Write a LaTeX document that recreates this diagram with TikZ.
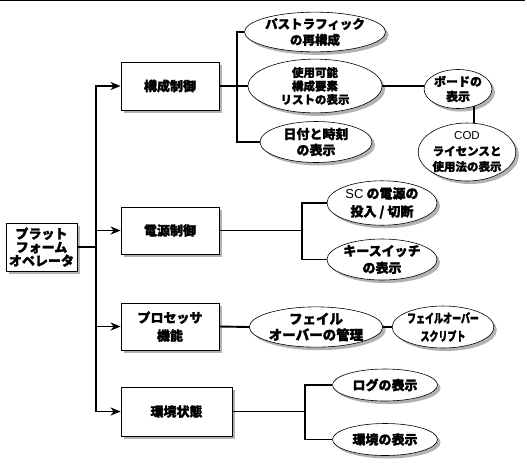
\documentclass[tikz,border=0pt]{standalone}
\usepackage{fontspec}
\usepackage{graphicx}
\setmainfont{Noto Sans CJK JP}[BoldFeatures={FakeBold=1.5}]
\newfontfamily\latinthin{Liberation Sans}
\usetikzlibrary{shapes.geometric,shadows,arrows.meta}
\newcommand\myfs[2]{\fontsize{#1}{#2}\selectfont}
\begin{document}
\begin{tikzpicture}[x=1pt,y=-1pt,
  shadowed/.style={drop shadow={shadow xshift=3pt,shadow yshift=-3pt,fill=black!30,opacity=1}},
  box/.style={draw, line width=0.8pt, fill=white, inner sep=0pt, align=center, text=black, shadowed},
  oval/.style={ellipse, draw, line width=0.6pt, fill=white, inner sep=0pt, align=center, text=black, shadowed},
  conn/.style={line width=1.9pt},
  arr/.style={conn,-{Stealth[length=10pt,width=8pt,inset=3pt]}}]
\useasboundingbox (0,0) rectangle (527,472);
\fill[white] (0,0) rectangle (527,472);
\draw[line width=1pt] (0,0.5) -- (525,0.5);

% boxes
\node[box,minimum width=71pt,minimum height=48pt,font=\bfseries\myfs{13}{13.5}] (plat) at (41.5,247) {プラット\\フォーム\\オペレータ};
\node[box,minimum width=98pt,minimum height=48pt,font=\bfseries\myfs{13}{18}] (b1) at (170,86) {構成制御};
\node[box,minimum width=98pt,minimum height=47pt,font=\bfseries\myfs{13}{18}] (b2) at (170,230.5) {電源制御};
\node[box,minimum width=98pt,minimum height=47pt,font=\bfseries\myfs{13}{18}] (b3) at (170,326.5) {プロセッサ\\機能};
\node[box,minimum width=111pt,minimum height=49pt,font=\bfseries\myfs{13}{18}] (b4) at (176.5,411.5) {環境状態};

% ellipses
\node[oval,minimum width=110pt,minimum height=39pt,font=\bfseries\myfs{12.5}{16}] (e1) at (315,32) {パストラフィック\\の再構成};
\node[oval,minimum width=134pt,minimum height=47pt,font=\bfseries\myfs{11.5}{13.5}] (e2) at (315,86) {使用可能\\構成要素\\リストの表示};
\node[oval,minimum width=112pt,minimum height=41pt,font=\bfseries\myfs{13}{16}] (e3) at (316,142) {日付と時刻\\の表示};
\node[oval,minimum width=49pt,minimum height=39pt,font=\bfseries\myfs{12}{15}] (e4) at (458,89) {ボードの\\表示};
\node[oval,minimum width=71pt,minimum height=58pt,font=\bfseries\myfs{11.5}{15.5}] (e5) at (467,152) {{\latinthin\mdseries COD}\\ライセンスと\\使用法の表示};
\node[oval,minimum width=110pt,minimum height=37pt,font=\bfseries\myfs{13}{18}] (e6) at (382,203) {{\latinthin\mdseries SC} の電源の\\投入 / 切断};
\node[oval,minimum width=110pt,minimum height=38pt,font=\bfseries\myfs{13}{17}] (e7) at (382,259.5) {キースイッチ\\の表示};
\node[oval,minimum width=104pt,minimum height=39pt,font=\bfseries\myfs{13.5}{16}] (e8) at (316,327) {フェイル\\オーバーの管理};
\node[oval,minimum width=77pt,minimum height=41pt,font=\bfseries\myfs{12.5}{18}] (e9) at (443,327) {\scalebox{0.72}[1]{フェイルオーバー}\\\scalebox{0.72}[1]{スクリプト}};
\node[oval,minimum width=105pt,minimum height=32pt,font=\bfseries\myfs{13}{16}] (e10) at (385,385) {ログの表示};
\node[oval,minimum width=105pt,minimum height=32pt,font=\bfseries\myfs{13}{16}] (e11) at (385,439.5) {環境の表示};

% trunk
\coordinate (t) at (96,0);
\draw[arr] (plat.east) -- (plat.east -| t) |- (b1.west);
\draw[arr] (plat.east) -- (plat.east -| t) |- (b2.west);
\draw[arr] (plat.east) -- (plat.east -| t) |- (b3.west);
\draw[arr] (plat.east) -- (plat.east -| t) |- (b4.west);

% 構成制御 branch
\coordinate (k1) at (237,0);
\draw[conn] (b1.east) -- (e2.west);
\draw[conn] (b1.east) -- (b1.east -| k1) |- (e1.west);
\draw[conn] (b1.east) -- (b1.east -| k1) |- (e3.west);
\draw[conn] (e2.east) -- (e2.east -| e4.west);
\draw[conn] (e4.313) -- (e4.313 |- e5.north);

% 電源制御 branch
\coordinate (k2) at (302,0);
\draw[conn] (b2.east) -- (b2.east -| k2) |- (e6.west);
\draw[conn] (b2.east) -- (b2.east -| k2) |- (e7.west);

% プロセッサ機能
\draw[conn] (b3.east) -- (e8.west);
\draw[conn] (e8.east) -- (e9.west);

% 環境状態 branch
\coordinate (k4) at (305,0);
\draw[conn] (b4.east) -- (b4.east -| k4) |- (e10.west);
\draw[conn] (b4.east) -- (b4.east -| k4) |- (e11.west);
\end{tikzpicture}
\end{document}
